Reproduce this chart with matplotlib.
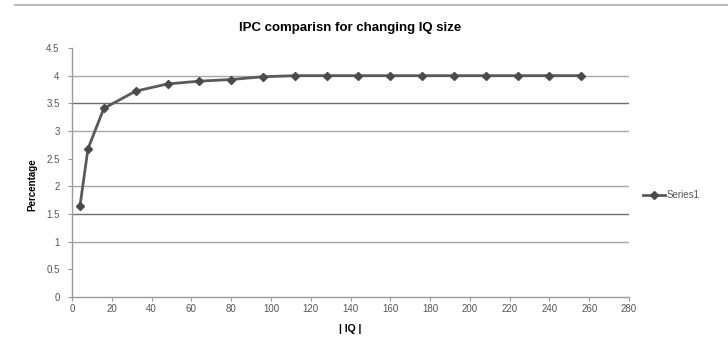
import matplotlib
matplotlib.use("Agg")
import matplotlib.pyplot as plt
from matplotlib.lines import Line2D

plt.rcParams["font.family"] = ["Liberation Sans", "DejaVu Sans"]

# IQ sizes and IPC
iq_size = [4, 8, 16, 32, 48, 64, 80, 96, 112, 128, 144, 160, 176, 192, 208, 224, 240, 256]
ipc = [1.65, 2.68, 3.41, 3.72, 3.85, 3.90, 3.93, 3.98, 4.0, 4.0, 4.0, 4.0, 4.0, 4.0, 4.0, 4.0, 4.0, 4.0]
x_ticks = list(range(0, 281, 20))
y_ticks = [0, 0.5, 1, 1.5, 2, 2.5, 3, 3.5, 4, 4.5]
y_tick_labels = ["0", "0.5", "1", "1.5", "2", "2.5", "3", "3.5", "4", "4.5"]

fig = plt.figure(figsize=(7.28, 3.45), dpi=100)
ax = fig.add_axes([0.099, 0.139, 0.765, 0.722])

# light frame line across the top of the image
fig.add_artist(Line2D([0.02, 1.0], [0.985, 0.985], color="#bdbdbd", lw=1.5))

ax.plot(iq_size, ipc, color="#5a5a5a", lw=2, marker="D", markersize=3.8,
        markerfacecolor="#4a4a4a", markeredgecolor="#4a4a4a", label="Series1",
        zorder=3)

ax.set_xlim(0, 280)
ax.set_ylim(0, 4.5)
ax.set_xticks(x_ticks)
ax.set_yticks(y_ticks)
ax.set_yticklabels(y_tick_labels)

# horizontal gridlines, dropping the ones that vanish in the reference
for y in y_ticks:
    if y in (0, 0.5, 2.5, 4.5):
        continue
    shade = "#6e6e6e" if y in (1.5, 3.5) else "#a8a8a8"
    ax.axhline(y, color=shade, lw=1, zorder=1)

for side in ("top", "right"):
    ax.spines[side].set_visible(False)
for side in ("left", "bottom"):
    ax.spines[side].set_color("#9a9a9a")
    ax.spines[side].set_linewidth(1)

ax.tick_params(axis="both", colors="#9a9a9a", labelcolor="#555555",
               labelsize=7, length=3, width=0.8)
ax.tick_params(axis="x", pad=2)
ax.tick_params(axis="y", pad=6)

ax.set_title("IPC comparisn for changing IQ size", fontsize=9.5,
             fontweight="bold", pad=12)
ax.set_xlabel("| IQ |", fontsize=7.5, fontweight="bold", labelpad=7)
ax.set_ylabel("Percentage", fontsize=7, fontweight="bold", labelpad=5)
ax.yaxis.set_label_coords(-0.062, 0.45)

ax.legend(loc="center left", bbox_to_anchor=(1.01, 0.41), frameon=False,
          fontsize=7, handlelength=2.2, handletextpad=0.2,
          labelcolor="#555555")

fig.savefig("out.png", dpi=100)
